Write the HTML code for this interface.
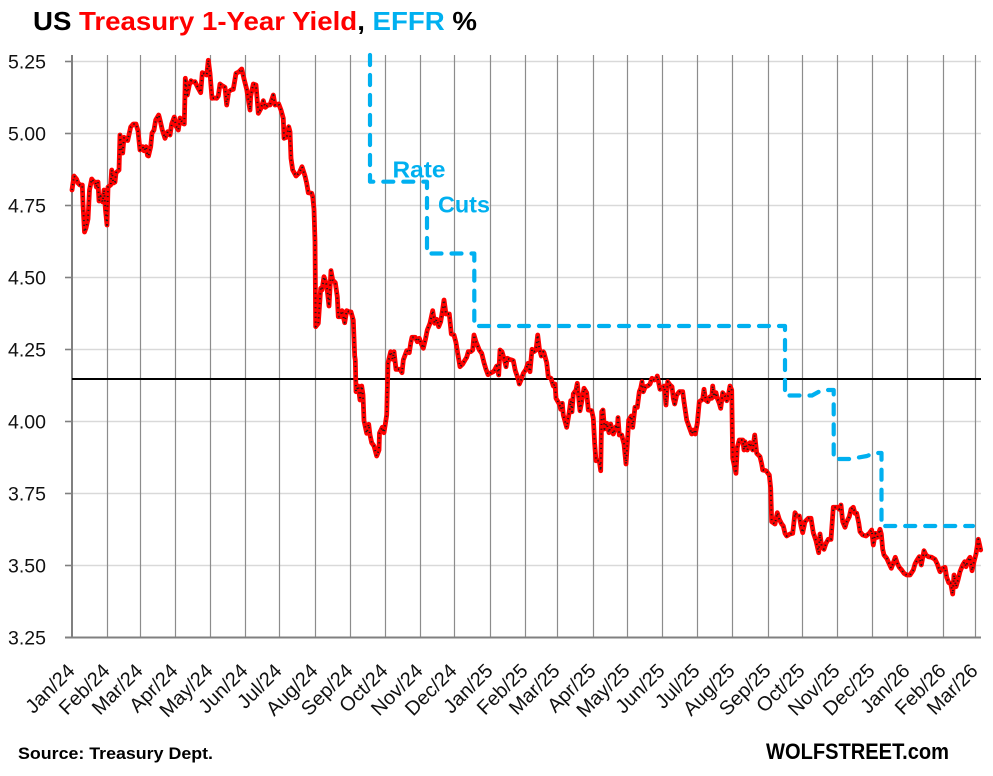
<!DOCTYPE html>
<html><head><meta charset="utf-8"><style>
html,body{margin:0;padding:0;background:#fff;}
svg{display:block;font-family:"Liberation Sans",Arial,sans-serif;}
</style></head><body>
<svg width="993" height="776" viewBox="0 0 993 776" xmlns="http://www.w3.org/2000/svg">
<defs>
<polyline id="ty" points="72,190 74,176 76.5,179 78,183 80,185 82.3,185 83,204 84.5,232 86,228 88,219 89.5,190 91.7,179 94,182 95.5,182 96.3,187 98,182 99,201 100.5,196 102.7,202 104,190 105.5,210 107,225 108,187 110.7,185 111.7,170 113.3,183 115,182 116,172.7 119,170 120,135 121.7,150 122.7,153 124,137.3 127.7,140.5 130.7,127 133.3,124 136,124 138,131 140,150 142.7,146.7 144,150.7 146,146.7 147.5,155.5 148.5,156 150.7,146.7 152,133.3 154,130 155.7,120 158.7,115 160.5,122 162.3,130 165,138.3 167.7,131.7 170,135 171.7,124 174.3,117 176,126 178.3,130 180,118 182.7,123.3 184.3,124 185.3,78.3 187.3,95 189.3,85 191,80.7 193,82 195,81.7 197.7,87.3 200.7,92.7 202.3,72.7 205,74 206.7,75 208.3,60.3 210,73.3 212,98.3 214,98 216.7,98.3 218.3,96 220,84 222.7,86 225,87.3 226.7,105 228.7,91.7 231,90 233.3,89.3 236,73.3 238.7,72 241.7,69 244.3,80 246.7,89.3 250,110 250.7,96 253.3,84 256,85 258.3,113.3 261,108.3 263.3,100.7 265.3,107.3 268,105 270,105 273.3,95 275,105 278.7,104 281,110 283.3,118.3 284,138.3 286.7,137.3 288.7,126.7 290,131.7 291,158.3 292.7,170 296,176 299.3,172.7 302,166.7 305,176 306.7,183.3 308.3,192.7 311.7,193.3 312.7,196.7 314,209.3 315,241.7 315.7,326.7 318.3,323.3 320.7,288.3 322,290 324,276.7 326.7,285 329,306 331,270.7 332.7,280 335.3,282.7 337.3,296.7 338.3,316.7 340,316.7 342,310.7 344.7,322.7 346.7,310.7 348.7,311.7 351,312 353.3,320 354.7,356 355.3,360 356,391.7 358.3,386 360,400 361.7,386 363,395 364,420.7 366.7,433.3 368.7,424.3 370,435 371.7,442.7 374,446 376.7,456 379,450 379.5,433 382.3,427.3 384,432.7 386.7,415 388,363 390.7,351.7 392.7,359.3 394,351.7 396,369.3 400,369.3 402,372.7 403.3,360 406.7,350.7 409.3,352.7 410.7,343.3 412,337.3 415.3,337.3 417.3,341.7 419.3,338.3 421.3,344 423.3,348.3 425.3,340 427.3,330 430,323.3 432.7,310.7 434.7,323.3 436.7,319.3 438.7,326.7 440.7,321.7 442.7,309.3 444,300 446,314 449.3,314 451.3,334 454,335 456,342.7 458,355 460,366.7 462.7,364 465,360 466.7,357.3 468.3,351.7 470.7,351.7 472.7,350 474,335 476,341.7 477.3,345 479.3,350 481.7,353.3 484,362.7 486,369.3 488,374.7 490,373.3 493.3,371.7 494.7,370 496.7,366 498.7,375 500,350 502,351.7 504,358.3 506,366.7 507.3,358.3 509.3,359.3 511.7,360 513.3,360.7 515.3,370.7 518,378.3 519.3,384 521.3,379.3 523.3,373.3 526,369.3 528,363.3 530,371.7 532,349.3 534,351.7 536,350 537.7,335 539.3,348.3 541.3,356 543.3,351.7 544,352.7 546.7,362.7 548.3,377 551,378.3 553.3,386 555,384 556,398.3 559.3,404 560.7,409.3 562.3,403.3 563.3,415 566.7,427.3 569.3,411.7 570.7,400.7 572,411.7 573.3,394 576,390 577.3,383.3 579.3,404 580,410.7 581.7,401.7 584,388.3 586.7,392.7 588.3,410 591.7,410.7 593.3,418.3 594.7,444 596,460.7 599.3,460.7 600.7,470.7 601.7,411.7 603,410 604.5,429 606.7,423.3 609,432.7 610.7,424 613.3,434 616,426.7 617.3,429.3 618,417.7 619.3,435 621.7,435 624,444 626,464 627.3,444 628.7,420 631.3,416 632.7,427.3 635,407.3 637.3,407.3 639.3,391.7 640.7,388.3 642,381.7 643.3,391.7 645.3,386.7 647.7,386 650,384 652,378.3 654.3,380 656,379.3 657.3,376 658.7,382.7 660,389.3 662,388.3 664.3,386 666,405 667.7,381.7 670,385 672,386.7 673.3,398.3 674.7,404 676.7,395 679.3,391.7 682.7,391.7 684,401.7 686.7,420 689.3,427.3 691.7,434 693.3,430 695.3,434 697.3,423.3 699.3,401.7 702.7,399.3 704,389.3 705.7,400 707.7,401.7 710,396.7 711.7,398.3 712.7,386 714,396.7 716,392.7 717.3,398.3 719.3,403.3 720.7,408.3 722.7,392.7 725,396 726.7,400.7 728.7,393.3 730,386 731.7,390 732.7,458.3 736,473.3 737.3,447.3 739.3,440 742.7,440 744,450 745,441.7 747.3,450 750,442.7 752.7,450 754.7,435 756.7,453.3 760,456.7 761.7,464 762.7,470 766,470.7 769.3,475 770.7,488.3 771.7,521.7 775,524 777.3,512.7 779.3,519.3 781.7,524 783.3,526 785,533.3 786.7,536 790,534 792.7,533.3 795,512.7 796.7,516 799.3,516 801,526 802.7,532.7 805,521.7 808.3,518.3 811,518.3 813.3,532.7 816,540.7 818.7,552.7 820,534 821.7,546.7 824,549.3 826,543.3 828.3,539.3 831,539.3 833.3,507.3 837.3,507.3 839.3,509.3 841,505 842.7,521.7 845,527.3 846.7,521.7 849.3,516.7 851,509.3 853.3,507.3 855,513.3 856.7,513.3 858.7,522.7 860,531.7 862.7,535 866,536 869.3,533.3 871.7,530 873.3,545 875.3,533.3 877.3,537.3 880,529.3 881.3,534 882.7,549.3 884,555 886.7,558.3 889.3,564 891.3,568.3 893.3,562.7 895.3,557.3 897.3,563.3 899.3,567.3 901.7,570 904,573.3 906.7,575 910,575 913.3,570 915,564 916.7,560.7 919.3,556.7 921.3,565 924,550.7 926,555 928.3,556.7 931.7,557.3 935,559.3 937.3,564 938.7,568.3 940,571.7 942.7,568.3 945,567.3 946.7,577.3 948.7,582.7 950.7,583.3 952.7,594 954,575 956,586.7 958,580 960,571.7 962.7,565 964.7,561.7 966,566.7 968.3,560 970,557.3 972,570.7 974,561.7 976,554 978.3,539.3 980.7,550"/>
</defs>
<rect width="993" height="776" fill="#fff"/>
<!-- title -->
<text x="33" y="30" font-size="26" font-weight="bold" textLength="444" lengthAdjust="spacingAndGlyphs"><tspan fill="#000">US </tspan><tspan fill="#ff0000">Treasury 1-Year Yield</tspan><tspan fill="#000">, </tspan><tspan fill="#00b0f0">EFFR</tspan><tspan fill="#000"> %</tspan></text>

<!-- horizontal gridlines -->
<g stroke="#d9d9d9" stroke-width="1.6">
<line x1="72" y1="61.5" x2="981" y2="61.5"/>
<line x1="72" y1="133.5" x2="981" y2="133.5"/>
<line x1="72" y1="205.5" x2="981" y2="205.5"/>
<line x1="72" y1="277.5" x2="981" y2="277.5"/>
<line x1="72" y1="349.5" x2="981" y2="349.5"/>
<line x1="72" y1="421.5" x2="981" y2="421.5"/>
<line x1="72" y1="493.5" x2="981" y2="493.5"/>
<line x1="72" y1="565.5" x2="981" y2="565.5"/>
</g>
<!-- y ticks -->
<g stroke="#808080" stroke-width="1.6">
<line x1="65" y1="61.5" x2="72" y2="61.5"/>
<line x1="65" y1="133.5" x2="72" y2="133.5"/>
<line x1="65" y1="205.5" x2="72" y2="205.5"/>
<line x1="65" y1="277.5" x2="72" y2="277.5"/>
<line x1="65" y1="349.5" x2="72" y2="349.5"/>
<line x1="65" y1="421.5" x2="72" y2="421.5"/>
<line x1="65" y1="493.5" x2="72" y2="493.5"/>
<line x1="65" y1="565.5" x2="72" y2="565.5"/>
</g>
<!-- vertical gridlines -->
<g stroke="#8c8c8c" stroke-width="1.2">
<line x1="107.5" y1="55" x2="107.5" y2="637"/>
<line x1="140.5" y1="55" x2="140.5" y2="637"/>
<line x1="175.5" y1="55" x2="175.5" y2="637"/>
<line x1="210.5" y1="55" x2="210.5" y2="637"/>
<line x1="245.5" y1="55" x2="245.5" y2="637"/>
<line x1="279.5" y1="55" x2="279.5" y2="637"/>
<line x1="315.5" y1="55" x2="315.5" y2="637"/>
<line x1="350.5" y1="55" x2="350.5" y2="637"/>
<line x1="385.5" y1="55" x2="385.5" y2="637"/>
<line x1="420.5" y1="55" x2="420.5" y2="637"/>
<line x1="454.5" y1="55" x2="454.5" y2="637"/>
<line x1="490.5" y1="55" x2="490.5" y2="637"/>
<line x1="525.5" y1="55" x2="525.5" y2="637"/>
<line x1="557.5" y1="55" x2="557.5" y2="637"/>
<line x1="593.5" y1="55" x2="593.5" y2="637"/>
<line x1="627.5" y1="55" x2="627.5" y2="637"/>
<line x1="662.5" y1="55" x2="662.5" y2="637"/>
<line x1="697.5" y1="55" x2="697.5" y2="637"/>
<line x1="732.5" y1="55" x2="732.5" y2="637"/>
<line x1="768.5" y1="55" x2="768.5" y2="637"/>
<line x1="802.5" y1="55" x2="802.5" y2="637"/>
<line x1="837.5" y1="55" x2="837.5" y2="637"/>
<line x1="872.5" y1="55" x2="872.5" y2="637"/>
<line x1="907.5" y1="55" x2="907.5" y2="637"/>
<line x1="943.5" y1="55" x2="943.5" y2="637"/>
<line x1="975.5" y1="55" x2="975.5" y2="637"/>
</g>
<!-- axes -->
<line x1="72" y1="55" x2="72" y2="638" stroke="#808080" stroke-width="2"/>
<line x1="65" y1="637.5" x2="981" y2="637.5" stroke="#808080" stroke-width="2"/>
<!-- 4.15 reference line -->
<line x1="72" y1="379" x2="981" y2="379" stroke="#000" stroke-width="2"/>

<!-- y labels -->
<g font-size="19.5" fill="#111" text-anchor="end">
<text x="46" y="68.5">5.25</text>
<text x="46" y="140.5">5.00</text>
<text x="46" y="212.5">4.75</text>
<text x="46" y="284.5">4.50</text>
<text x="46" y="356.5">4.25</text>
<text x="46" y="428.5">4.00</text>
<text x="46" y="500.5">3.75</text>
<text x="46" y="572.5">3.50</text>
<text x="46" y="644.5">3.25</text>
</g>

<!-- EFFR -->
<path d="M370,55 V181.7 H427 V253.5 H474.3 V326 H785 V395.5 H812 L822,390 H833.7 V459 H850 L867,456 L874,453 H881.5 V526 H973" fill="none" stroke="#00b0f0" stroke-width="4.2" stroke-dasharray="10 10" stroke-linecap="round" stroke-linejoin="round"/>
<text x="392.5" y="177.3" font-size="23" font-weight="bold" fill="#00b0f0" textLength="53" lengthAdjust="spacingAndGlyphs">Rate</text>
<text x="438" y="212.3" font-size="23" font-weight="bold" fill="#00b0f0" textLength="52" lengthAdjust="spacingAndGlyphs">Cuts</text>

<!-- Treasury 1-year -->
<use href="#ty" fill="none" stroke="#ff0000" stroke-width="4.8" stroke-linejoin="round" stroke-linecap="round"/>
<use href="#ty" fill="none" stroke="#1a1a1a" stroke-width="1.9" stroke-dasharray="1.2 3.6" stroke-linejoin="round" stroke-linecap="butt"/>

<!-- x labels -->
<g font-size="20" fill="#111" text-anchor="end">
<text transform="translate(76,672) rotate(-45)">Jan/24</text>
<text transform="translate(111,672) rotate(-45)">Feb/24</text>
<text transform="translate(144,672) rotate(-45)">Mar/24</text>
<text transform="translate(179,672) rotate(-45)">Apr/24</text>
<text transform="translate(214,672) rotate(-45)">May/24</text>
<text transform="translate(249,672) rotate(-45)">Jun/24</text>
<text transform="translate(283,672) rotate(-45)">Jul/24</text>
<text transform="translate(319,672) rotate(-45)">Aug/24</text>
<text transform="translate(354,672) rotate(-45)">Sep/24</text>
<text transform="translate(389,672) rotate(-45)">Oct/24</text>
<text transform="translate(424,672) rotate(-45)">Nov/24</text>
<text transform="translate(458,672) rotate(-45)">Dec/24</text>
<text transform="translate(494,672) rotate(-45)">Jan/25</text>
<text transform="translate(529,672) rotate(-45)">Feb/25</text>
<text transform="translate(561,672) rotate(-45)">Mar/25</text>
<text transform="translate(597,672) rotate(-45)">Apr/25</text>
<text transform="translate(631,672) rotate(-45)">May/25</text>
<text transform="translate(666,672) rotate(-45)">Jun/25</text>
<text transform="translate(701,672) rotate(-45)">Jul/25</text>
<text transform="translate(736,672) rotate(-45)">Aug/25</text>
<text transform="translate(772,672) rotate(-45)">Sep/25</text>
<text transform="translate(806,672) rotate(-45)">Oct/25</text>
<text transform="translate(841,672) rotate(-45)">Nov/25</text>
<text transform="translate(876,672) rotate(-45)">Dec/25</text>
<text transform="translate(911,672) rotate(-45)">Jan/26</text>
<text transform="translate(947,672) rotate(-45)">Feb/26</text>
<text transform="translate(979,672) rotate(-45)">Mar/26</text>
</g>

<!-- footer -->
<text x="18" y="759" font-size="16.5" font-weight="bold" fill="#000" textLength="195" lengthAdjust="spacingAndGlyphs">Source: Treasury Dept.</text>
<text x="766" y="759" font-size="22" font-weight="bold" fill="#000" textLength="183" lengthAdjust="spacingAndGlyphs">WOLFSTREET.com</text>
</svg>
</body></html>
